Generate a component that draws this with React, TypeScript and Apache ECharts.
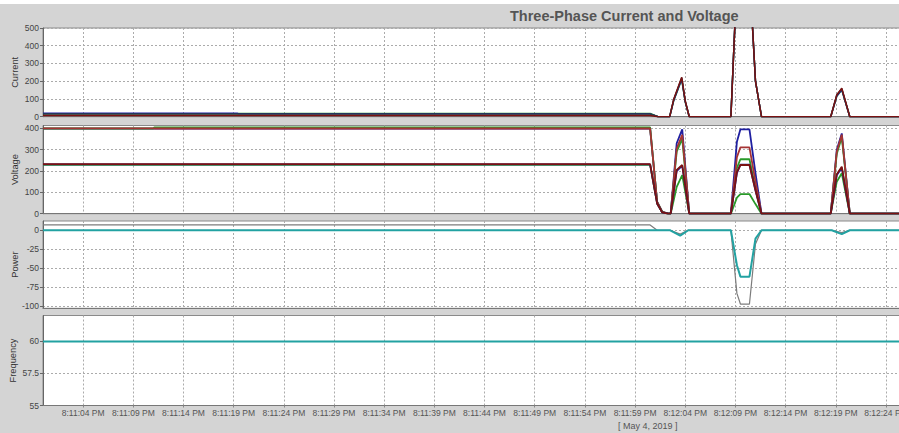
import React, { useEffect, useRef } from 'react';
import * as echarts from 'echarts';

// x values are seconds after 8:11:00 PM (May 4, 2019)
const X_TICK_SECONDS = [4, 9, 14, 19, 24, 29, 34, 39, 44, 49, 54, 59, 64, 69, 74, 79, 84];
const X_TICK_LABELS = [
  '8:11:04 PM', '8:11:09 PM', '8:11:14 PM', '8:11:19 PM', '8:11:24 PM', '8:11:29 PM',
  '8:11:34 PM', '8:11:39 PM', '8:11:44 PM', '8:11:49 PM', '8:11:54 PM', '8:11:59 PM',
  '8:12:04 PM', '8:12:09 PM', '8:12:14 PM', '8:12:19 PM', '8:12:24 PM',
];
const DATE_LABEL = '[ May 4, 2019 ]';
const TITLE = 'Three-Phase Current and Voltage';

// Current panel
const CURRENT_T = [0, 19.4, 19.5, 60.5, 61.3, 62.45, 62.85, 63.65, 64.0, 64.4, 68.55, 69.15, 69.5, 70.4, 71.0, 71.6, 78.5, 79.1, 79.6, 80.4, 86];
const CURRENT_BLUE = [19, 19, 16, 16, 0, 0, 92, 212, 85, 0, 0, 780, 820, 820, 200, 0, 0, 116, 152, 0, 0];
const CURRENT_GREEN = [17, 17, 18, 18, 0, 0, 90, 210, 82, 0, 0, 780, 820, 820, 200, 0, 0, 115, 150, 0, 0];
const CURRENT_BLACK = [15, 15, 15, 15, 0, 0, 96, 220, 88, 0, 0, 780, 820, 820, 200, 0, 0, 122, 158, 0, 0];
const CURRENT_RED = [7, 7, 7, 7, 0, 0, 98, 222, 90, 0, 0, 780, 820, 820, 200, 0, 0, 122, 160, 0, 0];

// Voltage panel
const VOLTAGE_T = [0, 11, 11.1, 60.5, 61.2, 61.7, 62.3, 62.55, 63.15, 63.7, 64.4, 68.55, 69.15, 69.5, 70.4, 71.0, 71.6, 78.5, 79.1, 79.6, 80.4, 86];
const VLL_BLUE = [398, 398, 398, 398, 55, 9, 0, 0, 330, 395, 0, 0, 337, 395, 395, 190, 0, 0, 298, 376, 0, 0];
const VLL_GREEN = [399, 399, 404, 404, 55, 9, 0, 0, 290, 350, 0, 0, 215, 255, 255, 120, 0, 0, 280, 358, 0, 0];
const VLL_RED = [400, 400, 399, 399, 55, 9, 0, 0, 305, 369, 0, 0, 265, 311, 311, 150, 0, 0, 290, 370, 0, 0];
const VLN_GREEN = [229, 229, 229, 229, 48, 6, 0, 0, 126, 181, 0, 0, 75, 92, 92, 45, 0, 0, 150, 189, 0, 0];
const VLN_BLUE = [231, 231, 231, 231, 48, 6, 0, 0, 200, 225, 0, 0, 190, 230, 230, 110, 0, 0, 180, 215, 0, 0];
const VLN_RED = [232, 232, 232, 232, 48, 6, 0, 0, 205, 228, 0, 0, 195, 228, 228, 110, 0, 0, 185, 220, 0, 0];

// Power panel
const POWER_T = [0, 60.5, 61.2, 62.5, 63.5, 64.3, 68.55, 69.15, 69.5, 70.4, 71.0, 71.6, 78.6, 79.6, 80.4, 86];
const POWER_TEAL = [0, 0, 0, 0, -7, 0, 0, -46, -61, -61, -11, 0, 0, -5, 0, 0];
const POWER_GREY = [7, 7, 0, 0, -5, 0, 0, -83, -97, -97, -18, 0, 0, -3, 0, 0];

// Frequency panel
const FREQ_T = [0, 86];
const FREQ_TEAL = [60, 60];
const FREQ_GREY = [60, 60];

const Y_TICKS_CURRENT = [0, 100, 200, 300, 400, 500];
const Y_TICKS_VOLTAGE = [0, 100, 200, 300, 400];
const Y_TICKS_POWER = [-100, -75, -50, -25, 0];
const Y_TICKS_FREQ = [55, 57.5, 60];

const C_BLUE = '#1f1fa0';
const C_GREEN = '#2a9a2a';
const C_DKRED = '#7a1212';
const C_RED = '#a63434';
const C_SLATE = '#24404a';
const C_TEAL = '#22a2a2';
const C_GREY = '#7c7c7c';

const FONT = 'Liberation Sans, Arial, sans-serif';

function pairs(ts: number[], vs: number[]) {
  return ts.map((t, i) => [t, vs[i]]);
}

export default function App() {
  const ref = useRef<HTMLDivElement>(null);
  useEffect(() => {
    if (!ref.current) return;
    const chart = echarts.init(ref.current, null, { renderer: 'svg' });

    const grids = [
      { top: 28, height: 88.7 },
      { top: 125.5, height: 88.2 },
      { top: 221, height: 87.3 },
      { top: 315.5, height: 90 },
    ].map((g) => ({
      left: 43,
      right: -7,
      top: g.top,
      height: g.height,
      containLabel: false,
      outerBoundsMode: 'none',
      show: true,
      backgroundColor: '#ffffff',
      borderColor: '#8a8a8a',
      borderWidth: 1,
    }));

    const splitLine = { show: true, lineStyle: { color: '#ababab', type: [2, 2] as any, width: 1 } };

    const xAxes = [0, 1, 2, 3].map((i) => ({
      type: 'value',
      gridIndex: i,
      min: 0,
      max: 86,
      axisLine: { show: true, onZero: false, lineStyle: { color: '#777' } },
      axisTick: { show: i === 3, length: 2, customValues: X_TICK_SECONDS, lineStyle: { color: '#888' } },
      axisLabel: {
        show: i === 3,
        customValues: X_TICK_SECONDS,
        fontSize: 8.5,
        fontFamily: FONT,
        color: '#555',
        margin: 3,
        formatter: (v: number) => {
          const k = X_TICK_SECONDS.indexOf(Math.round(v));
          return k >= 0 ? X_TICK_LABELS[k] : '';
        },
      },
      splitLine,
    }));

    const yDefs = [
      { name: 'Current', min: 0, max: 500, ticks: Y_TICKS_CURRENT, gap: 23.5 },
      { name: 'Voltage', min: 0, max: 413, ticks: Y_TICKS_VOLTAGE, gap: 23.5 },
      { name: 'Power', min: -102.6, max: 12.2, ticks: Y_TICKS_POWER, gap: 23.5 },
      { name: 'Frequency', min: 55, max: 62.03, ticks: Y_TICKS_FREQ, gap: 25.5 },
    ];
    const yAxes = yDefs.map((d, i) => ({
      type: 'value',
      gridIndex: i,
      min: d.min,
      max: d.max,
      name: d.name,
      nameLocation: 'middle',
      nameGap: d.gap,
      nameMoveOverlap: false,
      nameTextStyle: { fontSize: 9.3, fontFamily: FONT, color: '#333' },
      axisLine: { show: true, onZero: false, lineStyle: { color: '#666' } },
      axisTick: { show: true, length: 3, customValues: d.ticks, lineStyle: { color: '#666' } },
      axisLabel: { customValues: d.ticks, fontSize: 8.5, fontFamily: FONT, color: '#444', margin: 4 },
      splitLine,
    }));

    const line = (name: string, xi: number, ts: number[], vs: number[], color: string, width = 1.8) => ({
      name,
      type: 'line',
      xAxisIndex: xi,
      yAxisIndex: xi,
      data: pairs(ts, vs),
      showSymbol: false,
      symbol: 'none',
      clip: true,
      lineStyle: { color, width },
      itemStyle: { color },
    });

    const series = [
      line('I green', 0, CURRENT_T, CURRENT_GREEN, C_GREEN, 1.5),
      line('I blue', 0, CURRENT_T, CURRENT_BLUE, C_BLUE, 1.5),
      line('I slate', 0, CURRENT_T, CURRENT_BLACK, C_SLATE, 1.5),
      line('I red', 0, CURRENT_T, CURRENT_RED, C_DKRED, 1.5),
      line('VLL blue', 1, VOLTAGE_T, VLL_BLUE, C_BLUE),
      line('VLL green', 1, VOLTAGE_T, VLL_GREEN, C_GREEN),
      line('VLL red', 1, VOLTAGE_T, VLL_RED, C_RED),
      line('VLN green', 1, VOLTAGE_T, VLN_GREEN, C_GREEN),
      line('VLN blue', 1, VOLTAGE_T, VLN_BLUE, C_BLUE),
      line('VLN red', 1, VOLTAGE_T, VLN_RED, C_DKRED),
      line('P grey', 2, POWER_T, POWER_GREY, C_GREY, 1.2),
      line('P teal', 2, POWER_T, POWER_TEAL, C_TEAL, 2),
      line('F grey', 3, FREQ_T, FREQ_GREY, C_GREY, 1.2),
      line('F teal', 3, FREQ_T, FREQ_TEAL, C_TEAL, 2),
    ];

    chart.setOption({
      animation: false,
      backgroundColor: '#d4d4d4',
      title: [
        {
          text: TITLE,
          left: 510,
          top: 8,
          padding: 0,
          textStyle: { fontSize: 14.5, fontWeight: 'bold', color: '#555', fontFamily: FONT },
        },
        {
          text: DATE_LABEL,
          left: 618,
          top: 421,
          padding: 0,
          textStyle: { fontSize: 9, fontWeight: 'normal', color: '#555', fontFamily: FONT },
        },
      ],
      graphic: [
        { type: 'rect', left: 0, top: 0, shape: { width: 899, height: 4 }, style: { fill: '#ffffff' }, silent: true },
      ],
      grid: grids,
      xAxis: xAxes,
      yAxis: yAxes,
      series,
    } as any);

    return () => chart.dispose();
  }, []);

  return <div ref={ref} style={{ position: 'fixed', left: 0, top: 0, width: 899, height: 433 }} />;
}
